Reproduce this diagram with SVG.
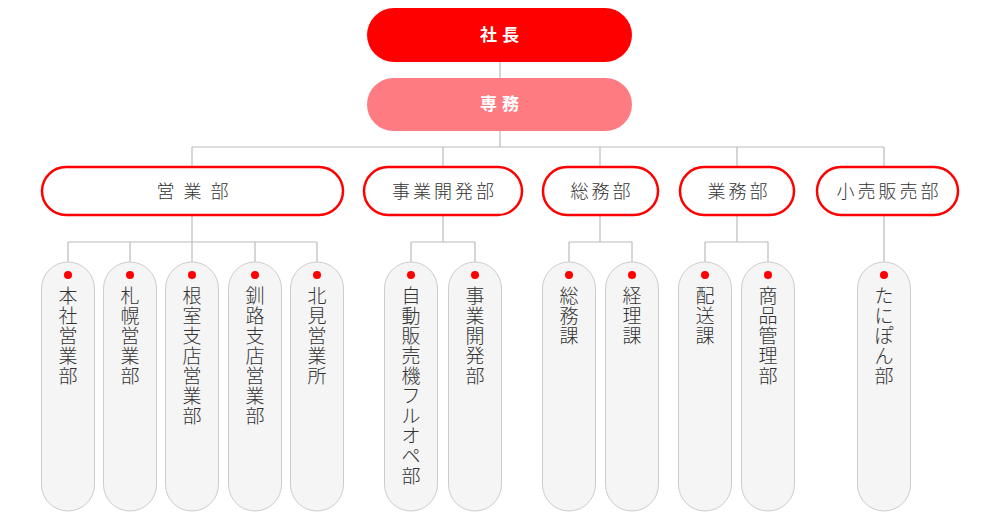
<svg xmlns="http://www.w3.org/2000/svg" width="1000" height="526" viewBox="0 0 1000 526">
<style>
text{font-family:"Noto Sans CJK JP","Noto Sans",sans-serif}
.top{fill:#fff;font-size:17px;font-weight:bold;text-anchor:middle;letter-spacing:5px}
.dept rect{fill:#fff;stroke:#f00;stroke-width:2.5}
.dept text{fill:#333;font-size:18px;font-weight:300;text-anchor:middle;letter-spacing:3px}
.sub rect{fill:#f5f5f5;stroke:#ccc;stroke-width:1}
.sub circle{fill:#f00}
.sub text{fill:#333;font-size:19px;font-weight:300;text-anchor:middle}
.ln{stroke:#bbb;stroke-width:1.2;fill:none}
</style>
<g id="connectors" class="ln">
<path d="M500 62V147M192 147H884M192 147V167M443 147V167M600 147V167M737 147V167M884 147V167"/>
<path d="M192 215V242M68 242H317M68 242V262M130 242V262M192 242V262M255 242V262M317 242V262"/>
<path d="M443 215V242M411 242H475M411 242V262M475 242V262"/>
<path d="M600 215V242M569 242H632M569 242V262M632 242V262"/>
<path d="M737 215V242M705 242H768M705 242V262M768 242V262"/>
<path d="M884 215V262"/>
</g>
<g id="n-shacho"><rect x="367" y="8" width="265" height="54" rx="27" fill="#f00"/><text class="top" x="502" y="41">社長</text></g>
<g id="n-senmu"><rect x="367" y="78" width="265" height="53" rx="26.5" fill="#ff7b82"/><text class="top" x="502" y="110">専務</text></g>
<g id="d1" class="dept"><rect x="42" y="167" width="301" height="48" rx="24"/><text x="197" y="198" style="letter-spacing:9px">営業部</text></g>
<g id="d2" class="dept"><rect x="364" y="167" width="158" height="48" rx="24"/><text x="444.5" y="198">事業開発部</text></g>
<g id="d3" class="dept"><rect x="543" y="167" width="115" height="48" rx="24"/><text x="602" y="198">総務部</text></g>
<g id="d4" class="dept"><rect x="680" y="167" width="114" height="48" rx="24"/><text x="739" y="198">業務部</text></g>
<g id="d5" class="dept"><rect x="817" y="167" width="141" height="48" rx="24"/><text x="889" y="198">小売販売部</text></g>
<g id="s1" class="sub"><rect x="41.5" y="262" width="53" height="249" rx="26.5"/><circle cx="68" cy="275" r="4"/><text x="68" y="303"><tspan x="68">本</tspan><tspan x="68" dy="20">社</tspan><tspan x="68" dy="20">営</tspan><tspan x="68" dy="20">業</tspan><tspan x="68" dy="20">部</tspan></text></g>
<g id="s2" class="sub"><rect x="103.5" y="262" width="53" height="249" rx="26.5"/><circle cx="130" cy="275" r="4"/><text x="130" y="303"><tspan x="130">札</tspan><tspan x="130" dy="20">幌</tspan><tspan x="130" dy="20">営</tspan><tspan x="130" dy="20">業</tspan><tspan x="130" dy="20">部</tspan></text></g>
<g id="s3" class="sub"><rect x="165.5" y="262" width="53" height="249" rx="26.5"/><circle cx="192" cy="275" r="4"/><text x="192" y="303"><tspan x="192">根</tspan><tspan x="192" dy="20">室</tspan><tspan x="192" dy="20">支</tspan><tspan x="192" dy="20">店</tspan><tspan x="192" dy="20">営</tspan><tspan x="192" dy="20">業</tspan><tspan x="192" dy="20">部</tspan></text></g>
<g id="s4" class="sub"><rect x="228.5" y="262" width="53" height="249" rx="26.5"/><circle cx="255" cy="275" r="4"/><text x="255" y="303"><tspan x="255">釧</tspan><tspan x="255" dy="20">路</tspan><tspan x="255" dy="20">支</tspan><tspan x="255" dy="20">店</tspan><tspan x="255" dy="20">営</tspan><tspan x="255" dy="20">業</tspan><tspan x="255" dy="20">部</tspan></text></g>
<g id="s5" class="sub"><rect x="290.5" y="262" width="53" height="249" rx="26.5"/><circle cx="317" cy="275" r="4"/><text x="317" y="303"><tspan x="317">北</tspan><tspan x="317" dy="20">見</tspan><tspan x="317" dy="20">営</tspan><tspan x="317" dy="20">業</tspan><tspan x="317" dy="20">所</tspan></text></g>
<g id="s6" class="sub"><rect x="384.5" y="262" width="53" height="249" rx="26.5"/><circle cx="411" cy="275" r="4"/><text x="411" y="303"><tspan x="411">自</tspan><tspan x="411" dy="20">動</tspan><tspan x="411" dy="20">販</tspan><tspan x="411" dy="20">売</tspan><tspan x="411" dy="20">機</tspan><tspan x="411" dy="20">フ</tspan><tspan x="411" dy="20">ル</tspan><tspan x="411" dy="20">オ</tspan><tspan x="411" dy="20">ペ</tspan><tspan x="411" dy="20">部</tspan></text></g>
<g id="s7" class="sub"><rect x="448.5" y="262" width="53" height="249" rx="26.5"/><circle cx="475" cy="275" r="4"/><text x="475" y="303"><tspan x="475">事</tspan><tspan x="475" dy="20">業</tspan><tspan x="475" dy="20">開</tspan><tspan x="475" dy="20">発</tspan><tspan x="475" dy="20">部</tspan></text></g>
<g id="s8" class="sub"><rect x="542.5" y="262" width="53" height="249" rx="26.5"/><circle cx="569" cy="275" r="4"/><text x="569" y="303"><tspan x="569">総</tspan><tspan x="569" dy="20">務</tspan><tspan x="569" dy="20">課</tspan></text></g>
<g id="s9" class="sub"><rect x="605.5" y="262" width="53" height="249" rx="26.5"/><circle cx="632" cy="275" r="4"/><text x="632" y="303"><tspan x="632">経</tspan><tspan x="632" dy="20">理</tspan><tspan x="632" dy="20">課</tspan></text></g>
<g id="s10" class="sub"><rect x="678.5" y="262" width="53" height="249" rx="26.5"/><circle cx="705" cy="275" r="4"/><text x="705" y="303"><tspan x="705">配</tspan><tspan x="705" dy="20">送</tspan><tspan x="705" dy="20">課</tspan></text></g>
<g id="s11" class="sub"><rect x="741.5" y="262" width="53" height="249" rx="26.5"/><circle cx="768" cy="275" r="4"/><text x="768" y="303"><tspan x="768">商</tspan><tspan x="768" dy="20">品</tspan><tspan x="768" dy="20">管</tspan><tspan x="768" dy="20">理</tspan><tspan x="768" dy="20">部</tspan></text></g>
<g id="s12" class="sub"><rect x="857.5" y="262" width="53" height="249" rx="26.5"/><circle cx="884" cy="275" r="4"/><text x="884" y="303"><tspan x="884">た</tspan><tspan x="884" dy="20">に</tspan><tspan x="884" dy="20">ぽ</tspan><tspan x="884" dy="20">ん</tspan><tspan x="884" dy="20">部</tspan></text></g>
</svg>
